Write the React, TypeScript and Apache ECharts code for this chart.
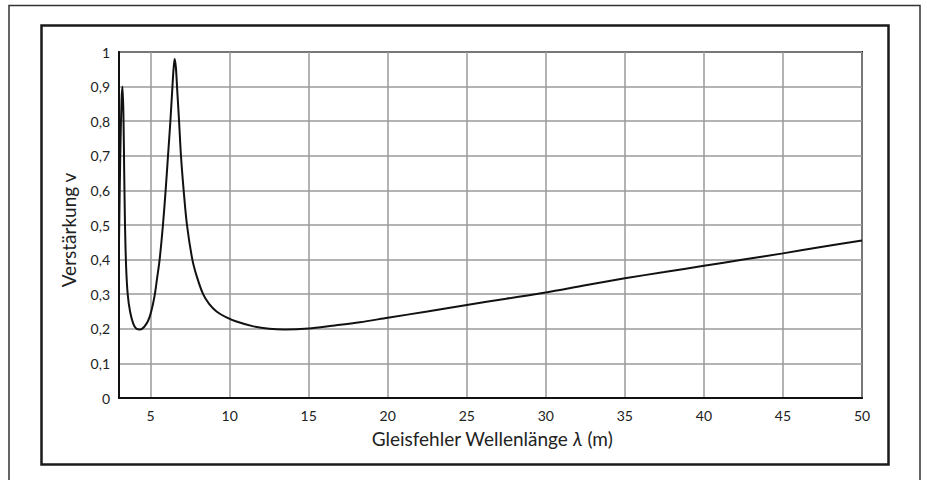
import React, { useEffect, useRef } from "react";
import * as echarts from "echarts";

const lambdaM: number[] = [
  3.0, 3.08, 3.16, 3.22, 3.28, 3.33, 3.38, 3.45, 3.55, 3.7, 3.9, 4.1, 4.35, 4.6, 4.85, 5.05, 5.25, 5.4, 5.57,
  5.78, 5.95, 6.1, 6.25, 6.38, 6.45, 6.52, 6.6, 6.67, 6.8, 6.92, 7.09, 7.3, 7.64, 7.93, 8.32, 8.7, 9.17, 9.8,
  10.43, 11.5, 12.5, 13.5, 15, 16.5, 18.24, 20, 22.5, 25, 27.5, 30, 32.5, 35, 37.5, 40, 42.5, 45, 47.5, 50,
];
const verstaerkung: number[] = [
  0.45, 0.7, 0.86, 0.9, 0.82, 0.65, 0.5, 0.38, 0.3, 0.25, 0.215, 0.2, 0.198, 0.206, 0.224, 0.252, 0.295, 0.343, 0.4,
  0.5, 0.6, 0.7, 0.8, 0.9, 0.95, 0.98, 0.955, 0.9, 0.8, 0.7, 0.6, 0.5, 0.4, 0.35, 0.3, 0.272, 0.25, 0.233,
  0.221, 0.207, 0.2, 0.198, 0.201, 0.209, 0.219, 0.232, 0.25, 0.269, 0.287, 0.305, 0.326, 0.346, 0.364, 0.382,
  0.4, 0.418, 0.437, 0.455,
];
const xTicks: number[] = [5, 10, 15, 20, 25, 30, 35, 40, 45, 50];
const xName = "Gleisfehler Wellenlänge ";
const yName = "Verstärkung v";

export default function App() {
  const ref = useRef<HTMLDivElement>(null);
  useEffect(() => {
    if (!ref.current) return;
    const chart = echarts.init(ref.current, undefined, { renderer: "svg" });
    const font = "Lato, 'Open Sans', sans-serif";
    chart.setOption({
      animation: false,
      backgroundColor: "#ffffff",
      textStyle: { fontFamily: font },
      grid: {
        left: 119,
        top: 52,
        right: 65,
        bottom: 82,
        show: true,
        borderColor: "#111",
        borderWidth: 2,
        backgroundColor: "transparent",
        outerBoundsMode: "none",
      },
      graphic: [
        {
          type: "rect",
          shape: { x: 9, y: 5.5, width: 911, height: 500 },
          style: { fill: "none", stroke: "#333", lineWidth: 1.5 },
          silent: true,
        },
        {
          type: "rect",
          shape: { x: 41.5, y: 25.5, width: 847, height: 439 },
          style: { fill: "none", stroke: "#1a1a1a", lineWidth: 2.5 },
          silent: true,
        },
        {
          type: "text",
          x: 492,
          y: 438,
          style: {
            text: "{n|" + xName + "}{i|λ}{n| (m)}",
            align: "center",
            verticalAlign: "middle",
            rich: {
              n: { fontSize: 19, fontFamily: font, fill: "#222" },
              i: { fontSize: 19, fontFamily: font, fill: "#222", fontStyle: "italic" },
            },
          },
          silent: true,
        },
        {
          type: "text",
          x: 68,
          y: 230,
          rotation: Math.PI / 2,
          style: {
            text: yName,
            align: "center",
            verticalAlign: "middle",
            fontSize: 19,
            fontFamily: font,
            fill: "#222",
          },
          silent: true,
        },
      ],
      xAxis: {
        type: "value",
        min: 3,
        max: 50,
        axisLine: { show: true, onZero: false, lineStyle: { color: "#111", width: 2 } },
        axisTick: { show: false, customValues: xTicks },
        axisLabel: {
          customValues: xTicks,
          color: "#222",
          fontSize: 14,
          fontFamily: font,
          margin: 10,
        },
        splitLine: { show: true, lineStyle: { color: "#9a9a9a", width: 1.5 } },
      },
      yAxis: {
        type: "value",
        min: 0,
        max: 1,
        interval: 0.1,
        axisLine: { show: true, lineStyle: { color: "#111", width: 2 } },
        axisTick: { show: false },
        axisLabel: {
          color: "#222",
          fontSize: 14,
          fontFamily: font,
          margin: 9,
          formatter: (v: number) => String(Math.round(v * 10) / 10).replace(".", ","),
        },
        splitLine: { show: true, lineStyle: { color: "#9a9a9a", width: 1.5 } },
      },
      series: [
        {
          type: "line",
          data: lambdaM.map((x, i) => [x, verstaerkung[i]]),
          showSymbol: false,
          smooth: 0.3,
          lineStyle: { color: "#111", width: 2 },
          clip: true,
        },
      ],
    });
    return () => chart.dispose();
  }, []);
  return (
    <div
      ref={ref}
      style={{ position: "absolute", left: 0, top: 0, width: 927, height: 480 }}
    />
  );
}
